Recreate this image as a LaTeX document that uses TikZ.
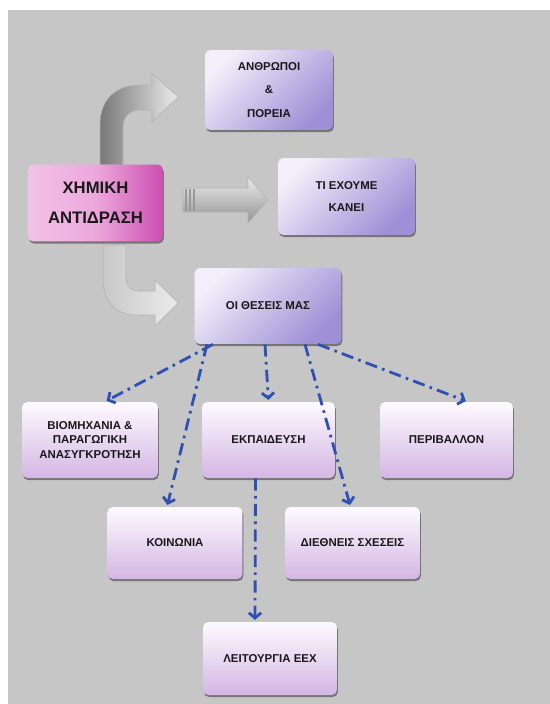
\documentclass[tikz,border=0pt]{standalone}
\usepackage{fontspec}
\setmainfont{Liberation Sans}
\usetikzlibrary{arrows.meta,shadows,calc}

\definecolor{bggray}{RGB}{198,198,198}
\definecolor{lavlight}{RGB}{242,239,250}
\definecolor{lavdark}{RGB}{158,144,214}
\definecolor{pinklight}{RGB}{253,250,254}
\definecolor{pinkdark}{RGB}{212,182,228}
\definecolor{chemlight}{RGB}{236,168,220}
\definecolor{chemdark}{RGB}{204,78,176}
\definecolor{linkblue}{RGB}{48,80,178}
\definecolor{textgray}{RGB}{25,25,25}
\definecolor{arrowdark}{RGB}{120,120,120}
\definecolor{arrowlight}{RGB}{235,235,235}

\tikzset{
  box/.style={rectangle, rounded corners=3pt, align=center, text=textgray,
    font=\bfseries\fontsize{6.5}{8.5}\selectfont,
    drop shadow={shadow xshift=0.5pt, shadow yshift=-1.2pt, opacity=0.6, fill=black!75}},
  topbox/.style={box, top color=lavlight, bottom color=lavdark, shading angle=45},
  lowbox/.style={box, top color=pinklight, bottom color=pinkdark},
  link/.style={linkblue, line width=1.6pt, dash pattern=on 7pt off 3pt on 1.5pt off 3pt,
    shorten >=1pt, -{Straight Barb[length=3pt,width=7pt]}},
  blockarrow/.style={draw=black!30, line width=0.3pt}
}

\begin{document}
\begin{tikzpicture}[x=0.02cm, y=-0.02cm]
  \useasboundingbox (0,0) rectangle (550,704);
  \fill[bggray] (8,10) rectangle (550,704);

  % Block arrows
  \shade[blockarrow, left color=arrowdark, right color=arrowlight]
    (100,165) -- (100,125) .. controls (100,100) and (115,85) .. (140,85) -- (152,85)
    -- (152,73) -- (178,97) -- (152,122) -- (152,110) -- (140,110)
    .. controls (130,110) and (123,117) .. (123,127) -- (123,165) -- cycle;
  \shade[blockarrow, top color=arrowlight, bottom color=arrowdark!80!white]
    (183,188) -- (248,188) -- (248,177) -- (268,200) -- (248,223) -- (248,212)
    -- (183,212) -- cycle;
  \foreach \sx in {186,190,194}
    \draw[black!40, line width=0.6pt] (\sx,189) -- (\sx,211);
  \shade[blockarrow, left color=arrowlight!85!black, right color=arrowlight]
    (103,245) -- (103,280) .. controls (103,300) and (115,315) .. (135,315) -- (155,315)
    -- (155,326) -- (178,303) -- (155,280) -- (155,291) -- (138,291)
    .. controls (131,291) and (126,286) .. (126,279) -- (126,245) -- cycle;

  % Nodes for the upper boxes
  \node[box, left color=chemlight!70!white, right color=chemdark, middle color=chemlight,
    minimum width=2.7cm, minimum height=1.54cm,
    font=\bfseries\fontsize{9.5}{17}\selectfont] (chem) at (95.5,203) {ΧΗΜΙΚΗ\\ΑΝΤΙΔΡΑΣΗ};
  \node[topbox, minimum width=2.56cm, minimum height=1.6cm,
    font=\bfseries\fontsize{6.5}{13.6}\selectfont] (anthropoi) at (269,90) {ΑΝΘΡΩΠΟΙ\\\&\\ΠΟΡΕΙΑ};
  \node[topbox, minimum width=2.74cm, minimum height=1.54cm,
    font=\bfseries\fontsize{6.5}{13}\selectfont] (kanei) at (346.5,196.5) {ΤΙ ΕΧΟΥΜΕ\\ΚΑΝΕΙ};
  \node[topbox, minimum width=2.94cm, minimum height=1.52cm] (theseis) at (268,306) {ΟΙ ΘΕΣΕΙΣ ΜΑΣ};

  % Nodes for the lower boxes
  \node[lowbox, minimum width=2.72cm, minimum height=1.52cm] (viomichania) at (90,440)
    {ΒΙΟΜΗΧΑΝΙΑ \&\\ΠΑΡΑΓΩΓΙΚΗ\\ΑΝΑΣΥΓΚΡΟΤΗΣΗ};
  \node[lowbox, minimum width=2.66cm, minimum height=1.52cm] (ekpaideusi) at (268.5,440) {ΕΚΠΑΙΔΕΥΣΗ};
  \node[lowbox, minimum width=2.66cm, minimum height=1.52cm] (perivallon) at (446.5,440) {ΠΕΡΙΒΑΛΛΟΝ};
  \node[lowbox, minimum width=2.7cm, minimum height=1.44cm] (koinonia) at (175,543) {ΚΟΙΝΩΝΙΑ};
  \node[lowbox, minimum width=2.7cm, minimum height=1.44cm] (diethneis) at (352.5,543) {ΔΙΕΘΝΕΙΣ ΣΧΕΣΕΙΣ};
  \node[lowbox, minimum width=2.68cm, minimum height=1.46cm] (leitourgia) at (270,658.5) {ΛΕΙΤΟΥΡΓΙΑ ΕΕΧ};

  % Dashed arrows
  \draw[link] ($(theseis.south)+(-55,0)$) -- ($(viomichania.north)+(15,0)$);
  \draw[link] ($(theseis.south)+(-61,0)$) -- ($(koinonia.north)+(-8,0)$);
  \draw[link] ($(theseis.south)+(-3,0)$) -- (ekpaideusi.north);
  \draw[link] ($(theseis.south)+(37,0)$) -- ($(diethneis.north)+(-2,0)$);
  \draw[link] ($(theseis.south)+(50,0)$) -- ($(perivallon.north)+(21,0)$);
  \draw[link] ($(ekpaideusi.south)+(-13,0)$) -- ($(leitourgia.north)+(-15,0)$);
\end{tikzpicture}
\end{document}
